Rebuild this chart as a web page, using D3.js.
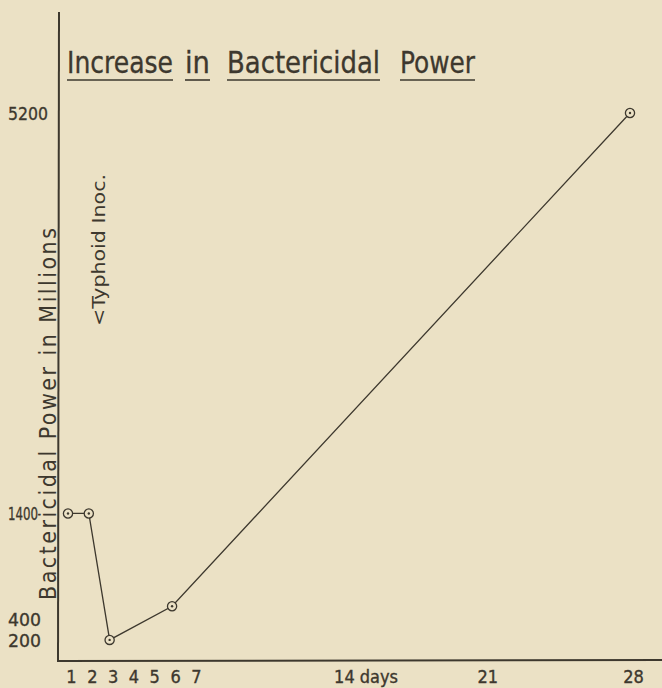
<!DOCTYPE html>
<html>
<head>
<meta charset="utf-8">
<script src="https://cdn.jsdelivr.net/npm/d3@7"></script>
<style>
  html, body { margin: 0; padding: 0; background: #ebe1c5; }
  svg { display: block; }
  text { font-family: "DejaVu Sans Condensed", "DejaVu Sans", sans-serif; fill: #3d382e; }
</style>
</head>
<body>
<script>
// Bactericidal power of the blood after a typhoid inoculation
const days = [1, 2, 3, 6, 28];
const power = [1400, 1400, 200, 520, 5200];          // millions
const dayTicks = [1, 2, 3, 4, 5, 6, 7, 14, 21, 28];
const dayTickLabels = ["1", "2", "3", "4", "5", "6", "7", "14 days", "21", "28"];
const powerTicks = [200, 400, 1400, 5200];
const powerTickLabels = ["200", "400", "1400", "5200"];
const titleWords = ["Increase", "in", "Bactericidal", "Power"];
const yTitle = "Bactericidal Power in Millions";
const note = "<Typhoid Inoc.";

const W = 662, H = 688;
const ink = "#3d382e";
const paper = "#ebe1c5";

const svg = d3.select("body").append("svg").attr("width", W).attr("height", H);
svg.append("rect").attr("width", W).attr("height", H).attr("fill", paper);

const x = d3.scaleLinear().domain([1, 28]).range([68, 630]);
const y = d3.scaleLinear().domain([0, 5200]).range([661, 113]);

// axis lines
svg.append("line").attr("x1", 59).attr("y1", 12).attr("x2", 58).attr("y2", 662)
  .attr("stroke", ink).attr("stroke-width", 2);
svg.append("line").attr("x1", 57).attr("y1", 661).attr("x2", 662).attr("y2", 660)
  .attr("stroke", ink).attr("stroke-width", 2);

// day labels under the baseline
const xAxis = d3.axisBottom(x)
  .tickValues(dayTicks)
  .tickSize(0)
  .tickPadding(0)
  .tickFormat((d, i) => dayTickLabels[i]);
const gx = svg.append("g").attr("transform", "translate(3,668)").call(xAxis);
gx.select(".domain").remove();
gx.selectAll("text")
  .attr("fill", ink)
  .attr("stroke", ink).attr("stroke-width", 0.35)
  .style("font-size", "18px")
  .style("font-family", "'DejaVu Sans Condensed','DejaVu Sans',sans-serif")
  .attr("dy", "0.85em")
  .each(function(d) {
    if (d === 14) d3.select(this).attr("text-anchor", "start").attr("dx", -8);
  });

// power labels at the left edge
const yAxis = d3.axisLeft(y)
  .tickValues(powerTicks)
  .tickSize(0)
  .tickFormat((d, i) => powerTickLabels[i]);
const gy = svg.append("g").call(yAxis);
gy.select(".domain").remove();
const labelWidth = { 200: 33, 400: 33, 1400: 30, 5200: 40 };
const labelSize = { 200: 18, 400: 18, 1400: 18, 5200: 18 };
gy.selectAll("text")
  .attr("fill", ink)
  .attr("stroke", ink).attr("stroke-width", 0.3)
  .attr("text-anchor", "start")
  .attr("x", 8)
  .attr("dy", "0.36em")
  .style("font-size", d => labelSize[d] + "px")
  .style("font-family", "'DejaVu Sans Condensed','DejaVu Sans',sans-serif")
  .attr("textLength", d => labelWidth[d])
  .attr("lengthAdjust", "spacingAndGlyphs");

// data line
const line = d3.line().x(d => x(d[0])).y(d => y(d[1]));
const pts = days.map((d, i) => [d, power[i]]);
svg.append("path").datum(pts).attr("d", line)
  .attr("fill", "none").attr("stroke", ink).attr("stroke-width", 1.3);

// ringed point markers
const mk = svg.append("g").selectAll("g").data(pts).join("g")
  .attr("transform", d => `translate(${x(d[0])},${y(d[1])})`);
mk.append("circle").attr("r", 4.6).attr("fill", paper)
  .attr("stroke", ink).attr("stroke-width", 1.3);
mk.append("circle").attr("r", 1.2).attr("fill", ink);

// title, each word underlined
const wordSpan = [[67, 173], [185, 210], [227, 380], [400, 475]];
const tg = svg.append("g");
titleWords.forEach((w, i) => {
  const [a, b] = wordSpan[i];
  tg.append("text").attr("x", a).attr("y", 73)
    .style("font-size", "30px")
    .attr("stroke", ink).attr("stroke-width", 0.3)
    .attr("textLength", b - a).attr("lengthAdjust", "spacingAndGlyphs")
    .text(w);
  tg.append("line").attr("x1", a).attr("x2", b).attr("y1", 80).attr("y2", 80)
    .attr("stroke", ink).attr("stroke-width", 1.6);
});

// vertical axis title
svg.append("text")
  .attr("transform", "translate(56,600) rotate(-90)")
  .style("font-size", "23px")
  .attr("textLength", 372).attr("lengthAdjust", "spacing")
  .text(yTitle);

// inoculation note
svg.append("text")
  .attr("transform", "translate(105,326) rotate(-90)")
  .style("font-size", "17px")
  .attr("textLength", 152).attr("lengthAdjust", "spacingAndGlyphs")
  .text(note);
</script>
</body>
</html>
